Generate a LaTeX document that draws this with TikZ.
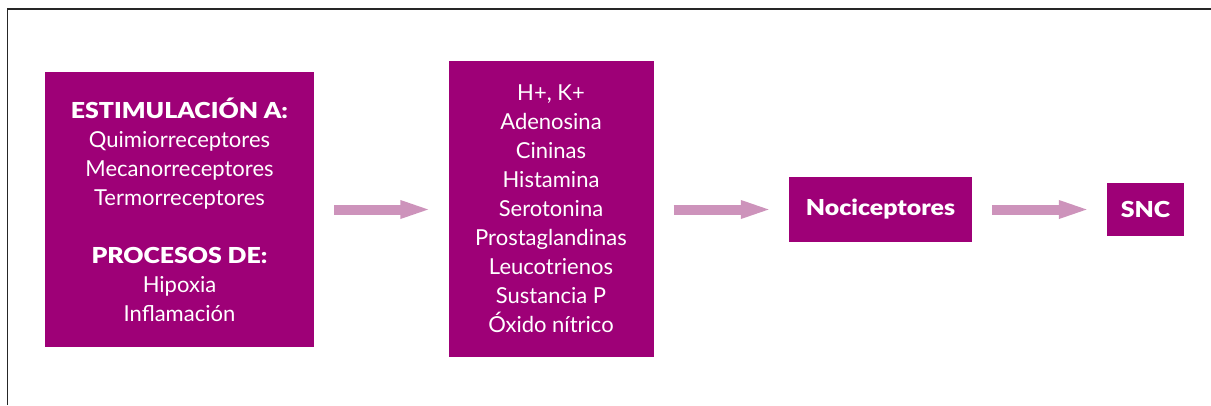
\documentclass[tikz,border=0pt]{standalone}
\usepackage{fontspec}
\setmainfont{Lato}
\newfontfamily\blackfont{Lato Black}
\usetikzlibrary{arrows.meta}
\definecolor{boxc}{HTML}{9E0077}
\definecolor{arrc}{HTML}{CD93BB}
\newcommand{\hd}[1]{\scalebox{1.13}[1]{\blackfont #1}}
\begin{document}
\begin{tikzpicture}[x=1pt,y=-1pt,
  box/.style={fill=boxc,draw=none,text=white,align=center,inner sep=0pt,
    font=\fontsize{22}{29}\selectfont},
  flow/.style={draw=arrc,line width=10pt,shorten >=16pt,shorten <=20pt,
    -{Triangle[length=32pt,width=16pt]}}]
\useasboundingbox (0,0) rectangle (1211,405);
\draw[line width=1.5pt,draw=black!85] (7.5,405) -- (7.5,9) -- (1211,9);
\node[box,minimum width=269pt,minimum height=275pt] (b1) at (179.5,209.5)
  {\hd{ESTIMULACIÓN A:}\\Quimiorreceptores\\Mecanorreceptores\\Termorreceptores\\[29pt]\hd{PROCESOS DE:}\\Hipoxia\\Inflamación};
\node[box,minimum width=205pt,minimum height=296pt] (b2) at (551,209)
  {H+, K+\\Adenosina\\Cininas\\Histamina\\Serotonina\\Prostaglandinas\\Leucotrienos\\Sustancia P\\Óxido nítrico};
\node[box,minimum width=183pt,minimum height=65pt] (b3) at (880.5,209.5) {\hd{Nociceptores}};
\node[box,minimum width=77pt,minimum height=53pt] (b4) at (1145.5,209.5) {\hd{SNC}};
\draw[flow] (b1.east) -- (b2.west |- b1.east);
\draw[flow] (b2.east |- b3.west) -- (b3.west);
\draw[flow] (b3.east) -- (b4.west);
\end{tikzpicture}
\end{document}
